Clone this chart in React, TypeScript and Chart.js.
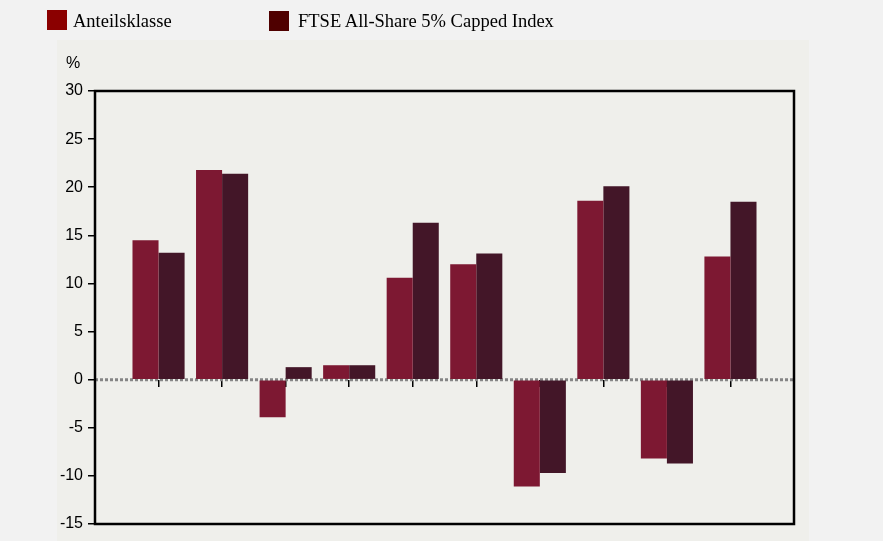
import React, { useEffect, useRef } from "react";
import { Chart, registerables } from "chart.js";

Chart.register(...registerables);

const categories: string[] = ["1", "2", "3", "4", "5", "6", "7", "8", "9", "10"];
const seriesNames: string[] = ["Anteilsklasse", "FTSE All-Share 5% Capped Index"];
const anteilsklasse: number[] = [14.5, 21.8, -3.9, 1.5, 10.6, 12.0, -11.1, 18.6, -8.2, 12.8];
const ftseIndex: number[] = [13.2, 21.4, 1.3, 1.5, 16.3, 13.1, -9.7, 20.1, -8.7, 18.5];
const yMin = -15;
const yMax = 30;
const yStep = 5;

const barColors = ["#7d1832", "#431628"];
const legendColors = ["#8b0000", "#4f0000"];

const W = 883;
const H = 541;

const backgroundPlugin = {
  id: "panelBackground",
  beforeDraw(chart: any) {
    const ctx = chart.ctx;
    ctx.save();
    ctx.fillStyle = "#f2f2f2";
    ctx.fillRect(0, 0, chart.width, chart.height);
    ctx.fillStyle = "#efefeb";
    ctx.fillRect(57, 40, 752, chart.height - 40);
    ctx.fillStyle = "#000";
    ctx.font = "16px 'Liberation Sans', Arial, sans-serif";
    ctx.textAlign = "center";
    ctx.textBaseline = "middle";
    ctx.fillText("%", 73, 64);
    ctx.restore();
  },
  beforeDatasetsDraw(chart: any) {
    const { left, right } = chart.chartArea;
    const y0 = chart.scales.y.getPixelForValue(0);
    const ctx = chart.ctx;
    ctx.save();
    ctx.strokeStyle = "#858585";
    ctx.lineWidth = 3;
    ctx.setLineDash([3, 2]);
    ctx.beginPath();
    ctx.moveTo(left, y0);
    ctx.lineTo(right, y0);
    ctx.stroke();
    ctx.restore();
  },
  afterDraw(chart: any) {
    const { left, right, top, bottom } = chart.chartArea;
    const ctx = chart.ctx;
    ctx.save();
    ctx.strokeStyle = "#000";
    ctx.lineWidth = 2.5;
    ctx.strokeRect(left, top, right - left, bottom - top);
    ctx.restore();
  },
};

export default function App() {
  const canvasRef = useRef<HTMLCanvasElement | null>(null);

  useEffect(() => {
    const canvas = canvasRef.current;
    if (!canvas) return;
    const labels = ["", ...categories, ""];
    const pad = (arr: number[]) => [null, ...arr, null];
    const chart = new Chart(canvas, {
      type: "bar",
      data: {
        labels,
        datasets: [
          {
            label: seriesNames[0],
            data: pad(anteilsklasse) as any,
            backgroundColor: barColors[0],
            borderWidth: 0,
            categoryPercentage: 0.82,
            barPercentage: 1.0,
          },
          {
            label: seriesNames[1],
            data: pad(ftseIndex) as any,
            backgroundColor: barColors[1],
            borderWidth: 0,
            categoryPercentage: 0.82,
            barPercentage: 1.0,
          },
        ],
      },
      options: {
        responsive: false,
        animation: false,
        devicePixelRatio: 1,
        layout: { padding: { left: 45, right: 89, top: 91, bottom: 17 } },
        plugins: {
          legend: { display: false },
          tooltip: { enabled: false },
        },
        scales: {
          x: {
            type: "category",
            offset: false,
            position: { y: 0 } as any,
            afterBuildTicks: (scale: any) => {
              scale.ticks = scale.ticks.filter(
                (t: any) => t.value >= 1 && t.value <= categories.length
              );
            },
            grid: {
              offset: false,
              drawOnChartArea: false,
              drawTicks: true,
              tickLength: 7,
              color: "#000",
              lineWidth: 1.5,
            },
            border: { display: false },
            ticks: { display: false },
          },
          y: {
            min: yMin,
            max: yMax,
            afterFit: (scale: any) => {
              scale.width = 50;
            },
            ticks: {
              stepSize: yStep,
              color: "#000",
              padding: 5,
              font: { family: "'Liberation Sans', Arial, sans-serif", size: 16 },
            },
            grid: {
              drawOnChartArea: false,
              drawTicks: true,
              tickLength: 7,
              color: "#000",
              lineWidth: 1.5,
            },
            border: { display: false },
          },
        },
      },
      plugins: [backgroundPlugin],
    });
    return () => chart.destroy();
  }, []);

  const legendText: React.CSSProperties = {
    position: "absolute",
    fontFamily: "'Liberation Serif', 'Times New Roman', serif",
    fontSize: "18.5px",
    lineHeight: "20px",
    color: "#000",
    whiteSpace: "nowrap",
  };

  return (
    <div
      style={{
        position: "fixed",
        left: 0,
        top: 0,
        width: W,
        height: H,
        overflow: "hidden",
        background: "#f2f2f2",
      }}
    >
      <canvas ref={canvasRef} width={W} height={H} style={{ display: "block" }} />
      <div style={{ position: "absolute", left: 47, top: 10, width: 20, height: 20, background: legendColors[0] }} />
      <div style={{ ...legendText, left: 73, top: 11 }}>{seriesNames[0]}</div>
      <div style={{ position: "absolute", left: 269, top: 11, width: 20, height: 20, background: legendColors[1] }} />
      <div style={{ ...legendText, left: 298, top: 11 }}>{seriesNames[1]}</div>
    </div>
  );
}
